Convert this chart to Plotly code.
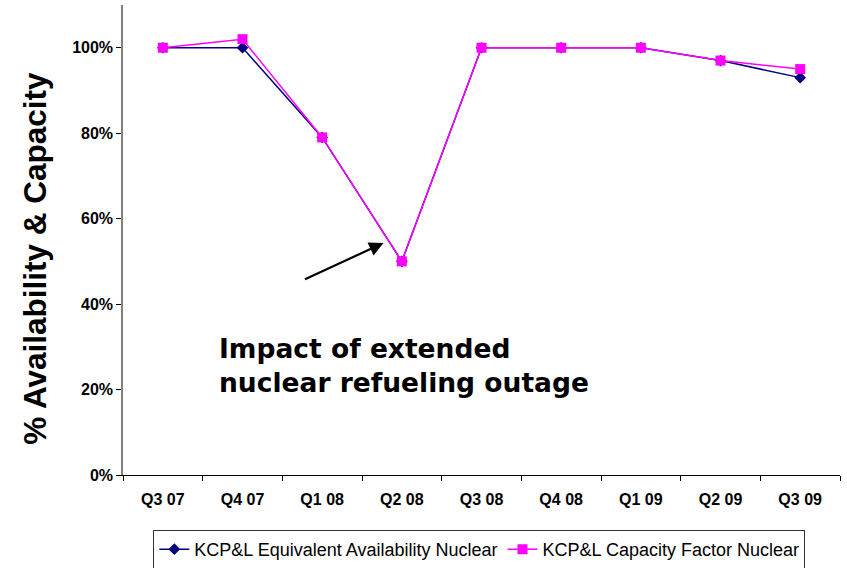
import plotly.graph_objects as go

quarters = ["Q3 07", "Q4 07", "Q1 08", "Q2 08", "Q3 08", "Q4 08", "Q1 09", "Q2 09", "Q3 09"]
equiv_availability = [1.00, 1.00, 0.79, 0.50, 1.00, 1.00, 1.00, 0.97, 0.93]
capacity_factor = [1.00, 1.02, 0.79, 0.50, 1.00, 1.00, 1.00, 0.97, 0.95]
series_names = ["KCP&L Equivalent Availability Nuclear", "KCP&L Capacity Factor Nuclear"]
y_title = "% Availability & Capacity"
note_text = "Impact of extended<br>nuclear refueling outage"

FONT = "Arial, 'Liberation Sans', sans-serif"

fig = go.Figure()
fig.add_trace(go.Scatter(
    x=quarters, y=equiv_availability, name=series_names[0], mode="lines+markers",
    line=dict(color="#000080", width=1.5),
    marker=dict(symbol="diamond", size=9, color="#000080"),
))
fig.add_trace(go.Scatter(
    x=quarters, y=capacity_factor, name=series_names[1], mode="lines+markers",
    line=dict(color="#FF00FF", width=1.5),
    marker=dict(symbol="square", size=10, color="#FF00FF"),
))

fig.update_layout(
    width=847, height=568,
    margin=dict(l=123, r=7, t=5, b=93, autoexpand=False),
    paper_bgcolor="white", plot_bgcolor="white",
    font=dict(family=FONT, color="black"),
    showlegend=True,
    legend=dict(
        orientation="h", x=0.497, xanchor="center", y=-0.117, yanchor="top",
        bordercolor="#333333", borderwidth=1, font=dict(size=18, family=FONT),
        itemwidth=30, tracegroupgap=0,
    ),
    xaxis=dict(
        type="category", range=[-0.5, 8.5],
        showline=True, linecolor="black", linewidth=1,
        ticks="outside", tickson="boundaries", ticklen=5, tickcolor="black",
        tickfont=dict(size=16, family=FONT, weight="bold"),
        ticklabelstandoff=10,
        showgrid=False, zeroline=False,
    ),
    yaxis=dict(
        range=[0, 1.1], dtick=0.2, tickformat=".0%",
        showline=True, linecolor="#808080", linewidth=1.5,
        ticks="outside", ticklen=5, tickcolor="black",
        tickfont=dict(size=16, family=FONT, weight="bold"),
        showgrid=False, zeroline=False,
    ),
    annotations=[
        dict(
            text=y_title, xref="paper", yref="paper", x=-0.123, y=0.462,
            xanchor="center", yanchor="middle",
            textangle=-90, showarrow=False,
            font=dict(size=31.5, family=FONT, weight="bold"),
        ),
        dict(
            text=note_text, xref="x", yref="y", x=0.68, y=0.257,
            xanchor="left", yanchor="middle", align="left", showarrow=False,
            font=dict(size=26.5, family="'DejaVu Sans', Verdana, sans-serif", weight="bold"),
        ),
        dict(
            text="", xref="x", yref="y", x=2.77, y=0.543,
            ax=-80, ay=37, showarrow=True, arrowhead=2, arrowsize=1.3,
            arrowwidth=2.2, arrowcolor="black",
        ),
    ],
)

fig.write_html(
    "out.html",
    config={"displayModeBar": False},
    post_script="document.body.style.margin='0px';document.body.style.overflow='hidden';",
)
